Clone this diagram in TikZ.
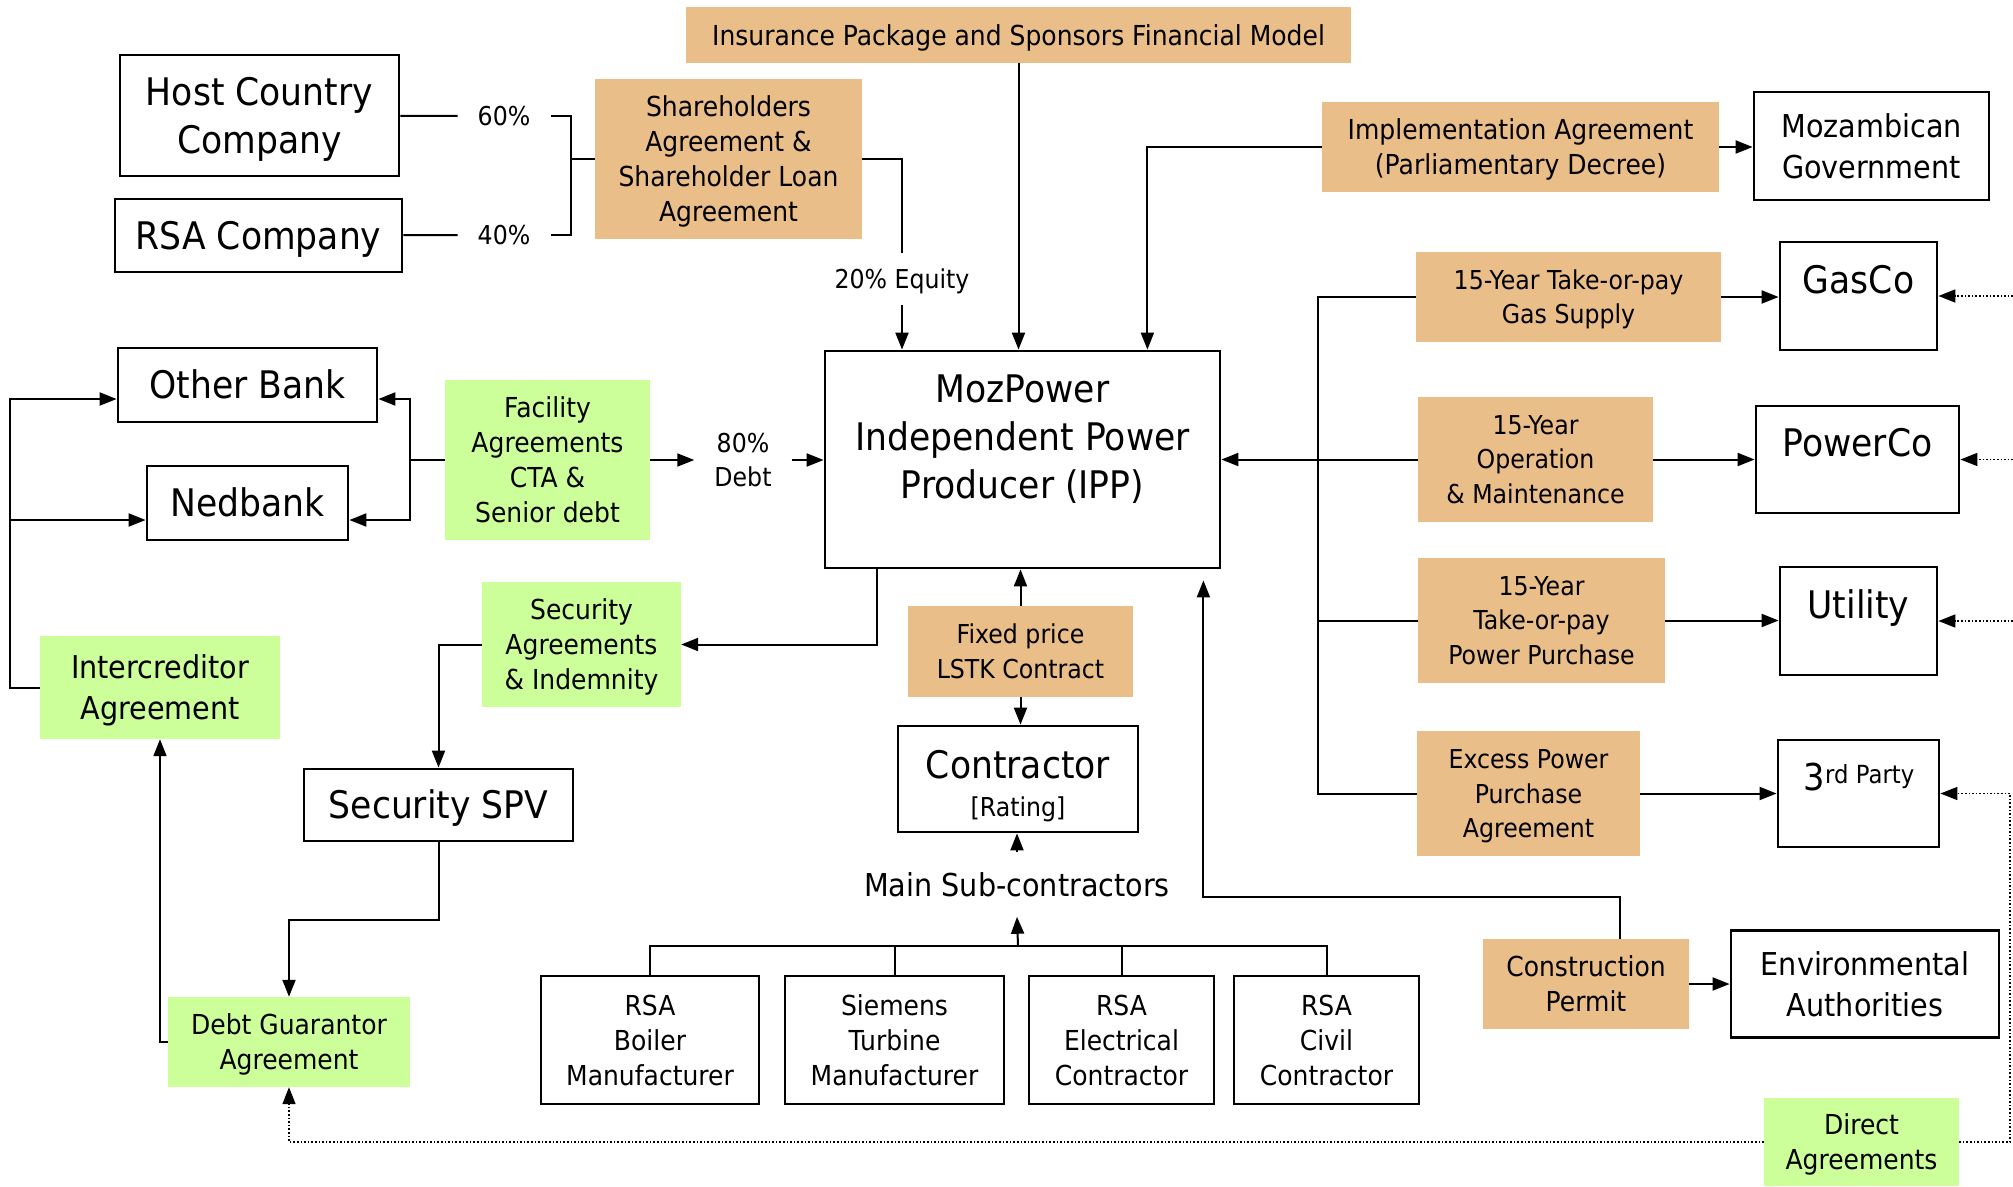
\documentclass[tikz,border=0pt]{standalone}
\usepackage{fontspec}
\setmainfont{DejaVu Sans}[FakeStretch=0.91]
\usetikzlibrary{arrows.meta}
\definecolor{org}{RGB}{234,190,136}
\definecolor{grn}{RGB}{204,255,153}
\newcommand\szB{\fontsize{38}{48}\selectfont}
\newcommand\szL{\fontsize{31.5}{41}\selectfont}
\newcommand\szM{\fontsize{27.5}{35}\selectfont}
\newcommand\szS{\fontsize{26}{34.5}\selectfont}
\newcommand\topstrut{\rule{0pt}{0.97em}}
\newcommand\botstrut{\rule[-0.24em]{0pt}{0pt}}
\newcommand\ts{\rule{0pt}{0.97em}}
\begin{document}
\begin{tikzpicture}[x=1pt,y=-1pt,
  sz/.style 2 args={minimum width=#1, minimum height=#2},
  vc/.style={execute at begin node=\topstrut, execute at end node=\botstrut},
  box/.style={draw, line width=2.8pt, fill=white, align=center, inner sep=0pt, font=\szB, vc},
  obox/.style={fill=org, align=center, inner sep=0pt, font=\szM, vc},
  gbox/.style={fill=grn, align=center, inner sep=0pt, font=\szM, vc},
  lbl/.style={inner sep=0pt, align=center},
  conn/.style={line width=2pt},
  arr/.style={line width=2pt, -{Triangle[length=17pt,width=13pt]}},
  dotarr/.style={line width=1.6pt, dash pattern=on 1.6pt off 2pt, -{Triangle[length=17pt,width=13pt]}}]
\fill[white] (0,0) rectangle (2013,1186);
\useasboundingbox (0,0) rectangle (2013,1186);

% ---- boxes ----
\node[obox, sz={665}{56}] (ins) at (1018.5,35) {Insurance Package and Sponsors Financial Model};
\node[box, sz={279}{121}] (host) at (259.5,115.5) {\ts Host Country\\Company};
\node[box, sz={287}{73}] (rsa) at (258.5,235.5) {RSA Company};
\node[obox, sz={267}{160}] (sha) at (728.5,159) {\ts Shareholders\\Agreement \&\\Shareholder Loan\\Agreement};
\node[lbl, vc, font=\szS, inner xsep=20pt] (p60) at (504,116) {60\%};
\node[lbl, vc, font=\szS, inner xsep=20pt] (p40) at (504,235) {40\%};
\node[lbl, vc, font=\szS, inner ysep=10pt] (eq) at (902,279) {20\% Equity};
\node[obox, sz={397}{90}] (impl) at (1520.5,147) {\ts Implementation Agreement\\(Parliamentary Decree)};
\node[box, font=\szL, sz={235}{108}] (gov) at (1871.5,146) {\ts Mozambican\\Government};
\node[obox, font=\szS, sz={305}{90}] (gas) at (1568.5,297) {\ts 15-Year Take-or-pay\\Gas Supply};
\node[box, sz={157}{108}] (gasco) at (1858.5,296) {};
\node[lbl, font=\szB, anchor=base] (gascoT) at (1858.5,293) {GasCo};

\node[box, sz={259}{74}] (ob) at (247.5,385) {Other Bank};
\node[box, sz={201}{74}] (ned) at (247.5,503) {Nedbank};
\node[gbox, sz={205}{160}] (fac) at (547.5,460) {\ts Facility\\Agreements\\CTA \&\\Senior debt};
\node[lbl, vc, font=\szS, inner xsep=20pt] (debt) at (743,460) {\ts 80\%\\Debt};
\node[box, sz={395}{217}] (ipp) at (1022.5,459.5) {};
\node[lbl, vc, font=\szB] (ippT) at (1022.5,437) {\ts MozPower\\Independent Power\\Producer (IPP)};
\node[obox, font=\szS, sz={235}{125}] (om) at (1535.5,459.5) {\ts 15-Year\\Operation\\\& Maintenance};
\node[box, sz={203}{107}] (pco) at (1857.5,459.5) {};
\node[lbl, font=\szB, anchor=base] (pcoT) at (1857.5,456) {PowerCo};

\node[gbox, sz={199}{125}] (sec) at (581.5,644.5) {\ts Security\\Agreements\\\& Indemnity};
\node[gbox, font=\szL, sz={240}{103}] (icr) at (160,687.5) {\ts Intercreditor\\Agreement};
\node[obox, font=\szS, sz={225}{91}] (fix) at (1020.5,651.5) {\ts Fixed price\\LSTK Contract};
\node[obox, font=\szS, sz={247}{125}] (ppa) at (1541.5,620.5) {\ts 15-Year\\Take-or-pay\\Power Purchase};
\node[box, sz={157}{108}] (uti) at (1858.5,621) {};
\node[lbl, font=\szB, anchor=base] (utiT) at (1858.5,618) {Utility};

\node[box, sz={240}{106}] (con) at (1018,779) {};
\node[lbl, font=\szB, anchor=base] (conT) at (1018,778) {Contractor};
\node[lbl, font=\szS, anchor=base] (conR) at (1018,816) {[Rating]};
\node[box, sz={269}{72}] (spv) at (438.5,805) {Security SPV};
\node[obox, font=\szS, sz={223}{125}] (exc) at (1528.5,793.5) {\ts Excess Power\\Purchase\\Agreement};
\node[box, sz={161}{107}] (thr) at (1858.5,793.5) {};
\node[lbl, anchor=base] (thrT) at (1859,790) {\fontsize{37}{40}\selectfont 3\raisebox{7pt}{\fontsize{25}{30}\selectfont rd Party}};

\node[lbl, vc, font=\szL, anchor=base, inner ysep=13pt] (msub) at (1017,896) {Main Sub-contractors};

\node[gbox, sz={242}{90}] (dga) at (289,1042) {\ts Debt Guarantor\\Agreement};
\node[box, font=\szM, sz={218}{128}] (boi) at (650,1040) {\ts RSA\\Boiler\\Manufacturer};
\node[box, font=\szM, sz={219}{128}] (sie) at (894.5,1040) {\ts Siemens\\Turbine\\Manufacturer};
\node[box, font=\szM, sz={185}{128}] (ele) at (1121.5,1040) {\ts RSA\\Electrical\\Contractor};
\node[box, font=\szM, sz={185}{128}] (civ) at (1326.5,1040) {\ts RSA\\Civil\\Contractor};
\node[obox, sz={206}{90}] (cst) at (1586,984) {\ts Construction\\Permit};
\node[box, font=\szL, sz={268}{107}] (env) at (1865,984) {\ts Environmental\\Authorities};
\node[gbox, sz={195}{88}] (dir) at (1861.5,1142) {\ts Direct\\Agreements};

% ---- coordinates ----
\coordinate (brk) at (571,159);
\coordinate (tk) at (1318,793.5);
\coordinate (fb) at (410,460);
\coordinate (lt) at (10,399);
\coordinate (lm) at (10,520);
\coordinate (sj) at (1018,946);
\coordinate (eG) at (2013,296);
\coordinate (eP) at (2013,459.5);
\coordinate (eU) at (2013,621);
\coordinate (eT) at (2010,793.5);

% ---- connectors ----
\draw[conn] (host) -- (p60);
\draw[conn] (rsa) -- (p40);
\draw[conn] (p60.east) -| (brk) |- (p40.east);
\draw[conn] (brk) -- (brk -| sha.west);
\draw[conn] (sha.east) -| (eq.north);
\draw[arr] (eq.south) -- (eq.south |- ipp.north);
\draw[arr] (ins.south) -- (ins.south |- ipp.north);
\draw[arr] (impl.west) -| ([xshift=-74pt]ipp.north east);
\draw[arr] (impl.east) -- (impl.east -| gov.west);

\draw[conn] (gas.west) -| (tk) -- (exc.west);
\draw[conn] (ppa.west) -- (ppa.west -| tk);
\draw[arr] (om.west) -- (om.west -| ipp.east);
\draw[arr] (gas.east) -- (gas.east -| gasco.west);
\draw[arr] (om.east) -- (pco.west);
\draw[arr] (ppa.east) -- (ppa.east -| uti.west);
\draw[arr] (exc.east) -- (thr.west);
\draw[dotarr] (eG) -- (gasco.east);
\draw[dotarr] (eP) -- (pco.east);
\draw[dotarr] (eU) -- (uti.east);
\draw[dotarr] (dir.east) -| (eT) -- (thr.east);
\draw[dotarr] (dir.west) -| (dga.south);

\draw[conn] (fac.west) -- (fb);
\draw[arr] (fb) |- ([yshift=-14pt]ob.east);
\draw[arr] (fb) |- ([yshift=-17pt]ned.east);
\draw[arr] (fac.east) -- (fac.east -| debt.west);
\draw[arr] (debt.east |- fac.east) -- (fac.east -| ipp.west);
\draw[arr] (icr.west) -| (lt) -- ([yshift=-14pt]ob.west);
\draw[arr] (lm) -- ([yshift=-17pt]ned.west);

\draw[arr] ([xshift=53pt]ipp.south west) |- (sec.east);
\draw[arr] (sec.west) -| (spv.north);
\draw[arr] (spv.south) -- ++(0,78) -| (dga.north);
\draw[arr] (dga.west) -| (icr.south);

\draw[arr] (fix.north) -- (fix.north |- ipp.south);
\draw[arr] (fix.south) -- (fix.south |- con.north);
\draw[arr] (msub.north) -- (msub.north |- con.south);
\draw[conn] (boi.north) |- (sj -| civ.north) -- (civ.north);
\draw[conn] (sie.north) -- (sie.north |- sj);
\draw[conn] (ele.north) -- (ele.north |- sj);
\draw[arr] (sj) -- (msub.south);
\draw[arr] ([xshift=34pt]cst.north) -- ++(0,-42) -| ([xshift=-18pt,yshift=-11pt]ipp.south east);
\draw[arr] (cst.east) -- (env.west);
\end{tikzpicture}
\end{document}
